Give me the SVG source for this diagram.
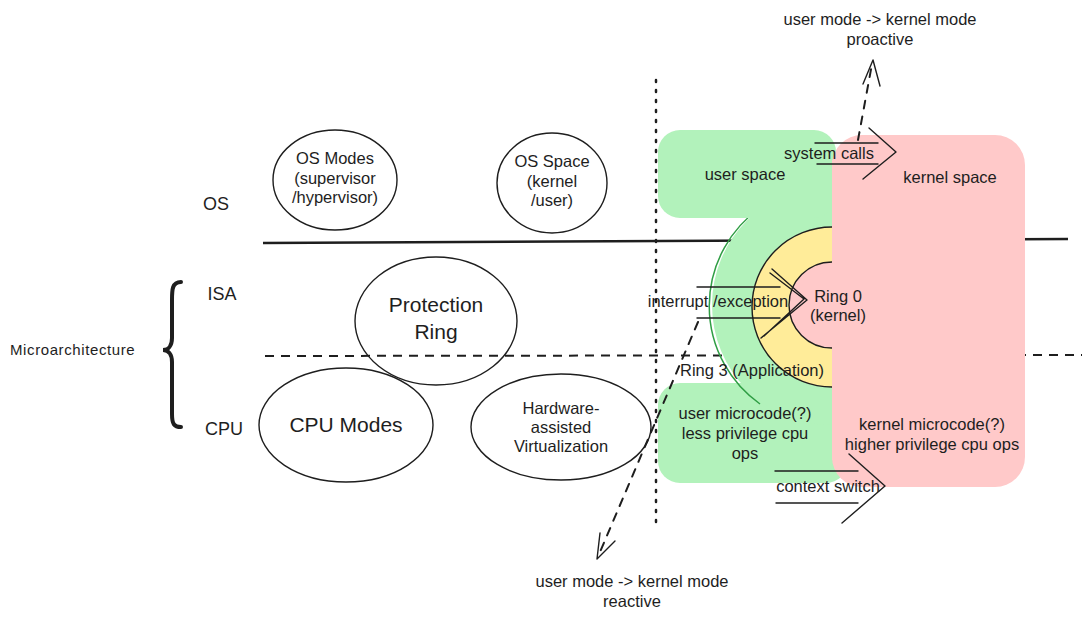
<svg xmlns="http://www.w3.org/2000/svg" width="1090" height="620" viewBox="0 0 1090 620">
<style>
text{font-family:"Liberation Sans",Arial,sans-serif;fill:#1e1e1e;text-anchor:middle}
.t{font-size:16.5px}
.tl{font-size:21px}
.ax{font-size:18px}
.ell{fill:none;stroke:#1e1e1e;stroke-width:1.4}
.arr{fill:none;stroke:#1e1e1e;stroke-width:1.4;stroke-linecap:round;stroke-linejoin:round}
.dash{fill:none;stroke:#1e1e1e;stroke-width:2;stroke-dasharray:8 8;stroke-linecap:round}
</style>
<rect width="1090" height="620" fill="#ffffff"/>
<g id="guides">
<line x1="263" y1="243" x2="1068" y2="239" stroke="#1e1e1e" stroke-width="2.5"/>
<line x1="265" y1="356" x2="1082" y2="355" stroke="#1e1e1e" stroke-width="2" stroke-dasharray="9 7"/>
<line x1="656" y1="80" x2="656" y2="522" stroke="#1e1e1e" stroke-width="2.5" stroke-dasharray="2 8" stroke-linecap="round"/>
</g>
<g id="user-microcode">
<rect x="658" y="383" width="190" height="100" rx="22" fill="#b2f2bb"/>
</g>
<g id="ring3">
<path d="M832,185 A120,120 0 0 0 832,425 Z" fill="#b2f2bb"/>
<path d="M760,208 A120,120 0 0 0 760,404" fill="none" stroke="#2f9e44" stroke-width="1.5"/>
</g>
<g id="user-space">
<rect x="658" y="130" width="178" height="88" rx="22" fill="#b2f2bb"/>
</g>
<g id="kernel-space">
<rect x="832" y="135" width="193" height="352" rx="30" fill="#ffc9c9"/>
<rect x="832" y="160" width="30" height="300" fill="#ffc9c9"/>
</g>
<g id="ring-yellow">
<path d="M832,227 A80,80 0 0 0 832,387 Z" fill="#ffec99"/>
<path d="M832,227 A80,80 0 0 0 832,387" fill="none" stroke="#1e1e1e" stroke-width="1.4"/>
</g>
<g id="ring0">
<path d="M832,262 A43,43 0 0 0 832,348 Z" fill="#ffc9c9"/>
<path d="M832,262 A43,43 0 0 0 832,348" fill="none" stroke="#1e1e1e" stroke-width="1.4"/>
</g>
<g id="os-modes">
<ellipse cx="335" cy="180" rx="62" ry="50" class="ell"/>
<text class="t" x="335" y="164">OS Modes</text>
<text class="t" x="335" y="184">(supervisor</text>
<text class="t" x="335" y="203">/hypervisor)</text>
</g>
<g id="os-space">
<ellipse cx="552" cy="183" rx="55" ry="50" class="ell"/>
<text class="t" x="552" y="167">OS Space</text>
<text class="t" x="552" y="187">(kernel</text>
<text class="t" x="552" y="206">/user)</text>
</g>
<g id="protection-ring">
<ellipse cx="436" cy="321" rx="81" ry="64" class="ell"/>
<text class="tl" x="436" y="312">Protection</text>
<text class="tl" x="436" y="339">Ring</text>
</g>
<g id="cpu-modes">
<ellipse cx="346" cy="425" rx="87" ry="57" class="ell"/>
<text class="tl" x="346" y="432">CPU Modes</text>
</g>
<g id="hw-virt">
<ellipse cx="561" cy="427" rx="90" ry="53" class="ell"/>
<text class="t" x="561" y="414">Hardware-</text>
<text class="t" x="561" y="433">assisted</text>
<text class="t" x="561" y="452">Virtualization</text>
</g>
<g id="labels">
<text class="ax" x="216" y="210">OS</text>
<text class="ax" x="222" y="300">ISA</text>
<text class="ax" x="224" y="435">CPU</text>
<text style="font-size:15px;text-anchor:start;letter-spacing:0.6px" x="10" y="355">Microarchitecture</text>
<path d="M181,282 C172,282 172,290 172,300 L172,338 C172,346 168,350 163,350 C168,350 172,354 172,362 L172,414 C172,424 174,427 181,427" fill="none" stroke="#1e1e1e" stroke-width="4" stroke-linecap="round"/>
<text class="t" x="745" y="180">user space</text>
<text class="t" x="950" y="183">kernel space</text>
<text class="t" x="838" y="302">Ring 0</text>
<text class="t" x="838" y="321">(kernel)</text>
<text class="t" x="752" y="376">Ring 3 (Application)</text>
<text class="t" x="745" y="419">user microcode(?)</text>
<text class="t" x="745" y="439">less privilege cpu</text>
<text class="t" x="745" y="459">ops</text>
<text class="t" x="932" y="430">kernel microcode(?)</text>
<text class="t" x="932" y="450">higher privilege cpu ops</text>
<text class="t" x="880" y="25">user mode -&gt; kernel mode</text>
<text class="t" x="880" y="45">proactive</text>
<text class="t" x="632" y="587">user mode -&gt; kernel mode</text>
<text class="t" x="632" y="607">reactive</text>
</g>
<g id="connectors">
<path class="dash" d="M858,140 L872,64"/>
<path class="arr" d="M863,84 L873,60 L880,86" stroke-width="2"/>
<path class="arr" d="M815,143 L878,143 M817,164 L878,164 M869,128 L896,152 L863,179"/>
<text class="t" x="829" y="159">system calls</text>
<path class="dash" d="M698,322 L600,552"/>
<path class="arr" d="M600,533 L597,559 L615,541" stroke-width="2"/>
<path class="arr" d="M697,287 L780,287 M697,318 L780,318 M772,269 L807,300 L761,338 M770,273 L804,299 L764,336"/>
<text class="t" x="718" y="307">interrupt /exception</text>
<path class="arr" d="M775,471 L858,471 M776,503 L858,503 M849,454 L885,486 L842,523"/>
<text class="t" x="828" y="492">context switch</text>
</g>
</svg>
